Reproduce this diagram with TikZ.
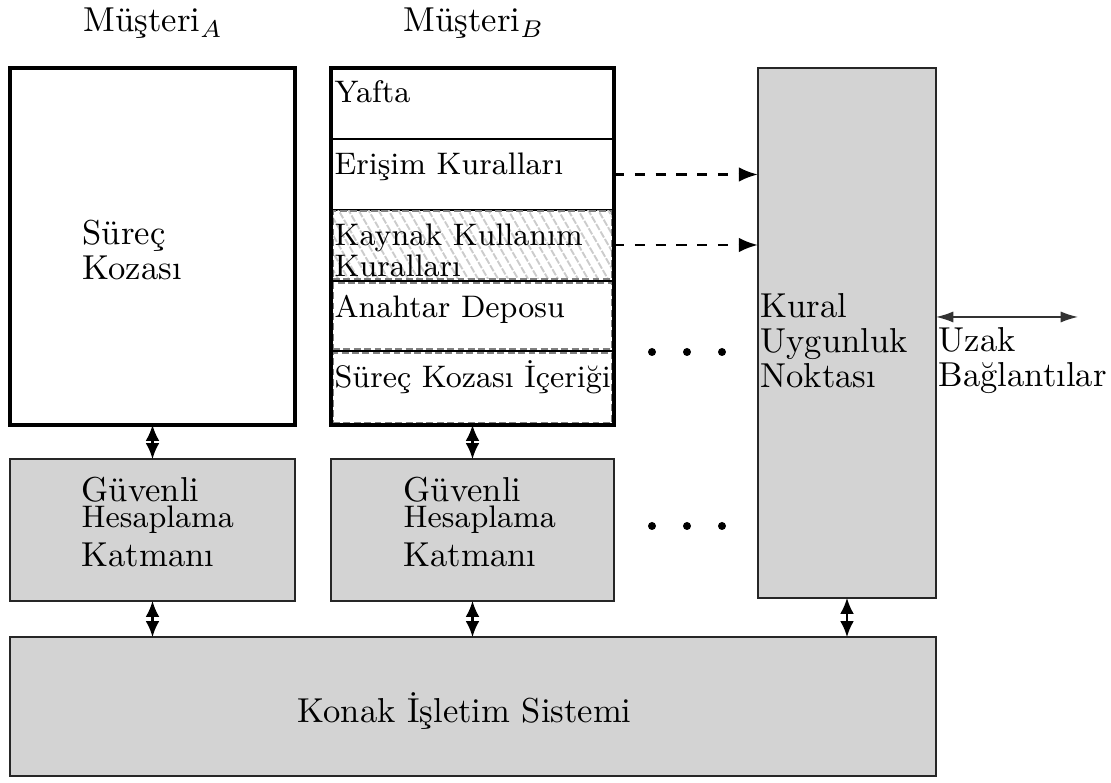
\documentclass[tikz,border=0pt]{standalone}
\usetikzlibrary{arrows.meta,patterns.meta}
\definecolor{boxgray}{RGB}{211,211,211}
\newcommand{\pxu}{0.28902pt}
\tikzset{
  box/.style={draw, inner sep=0pt, outer sep=0pt, anchor=north west},
  sz/.style 2 args={minimum width=#1*\pxu, minimum height=#2*\pxu},
  client/.style={box, line width=0.9pt},
  rowbox/.style={box, line width=0.4pt},
  dbox/.style={box, draw=black!50, dash pattern=on 2pt off 1pt, line width=0.6pt},
  hatch/.style={pattern={Lines[angle=-60,distance=2.5pt,line width=0.55pt]}, pattern color=black!20},
  graybox/.style={box, fill=boxgray, draw=black!85, line width=0.5pt},
  txt/.style={inner sep=0pt, anchor=base west, align=left, font=\fontsize{10}{10.2}\selectfont},
  stxt/.style={txt, font=\fontsize{9}{9.2}\selectfont},
  dbl/.style={{Latex[length=4.6pt,width=4pt]}-{Latex[length=4.6pt,width=4pt]}, line width=0.6pt},
  dasharrow/.style={-{Latex[length=5.5pt,width=4.2pt]}, dashed, line width=0.8pt},
  thinarrow/.style={{Latex[length=5pt,width=3.2pt]}-{Latex[length=5pt,width=3.2pt]}, line width=0.4pt, draw=black!80},
  dot/.style={fill=black}
}
\begin{document}
\begin{tikzpicture}[x=0.28902pt, y=-0.28902pt]
\useasboundingbox (0,0) rectangle (1111,783);

% top labels
\node[txt] (mA) at (83,32) {Müşteri$_A$};
\node[txt] (mB) at (403,32) {Müşteri$_B$};

% client A
\node[client, sz={285}{357}] (clientA) at (10,68) {};
\node[txt] (surec) at (82,280) {Süreç\\Kozası};

% client B rows
\node[rowbox, sz={283}{71}] (yafta) at (331,68) {};
\node[rowbox, sz={283}{71}] (erisim) at (331,139) {};
\node[dbox, hatch, sz={279}{68}] (kaynak) at (333,211) {};
\node[dbox, sz={279}{66}] (anahtar) at (333,283) {};
\node[dbox, sz={279}{70}] (icerik) at (333,353) {};
\draw[line width=0.4pt] (anahtar.north west -| yafta.west) ++(0,-2) coordinate (s1) -- (s1 -| yafta.east);
\draw[line width=0.4pt] (icerik.north west -| yafta.west) ++(0,-2) coordinate (s2) -- (s2 -| yafta.east);
\node[client, sz={283}{357}] (clientB) at (331,68) {};

\node[stxt] (tyafta) at (334,103) {Yafta};
\node[stxt] (terisim) at (334,175) {Erişim Kuralları};
\node[stxt] (tkaynak) at (334,277) {Kaynak Kullanım\\Kuralları};
\node[stxt] (tanahtar) at (334,318) {Anahtar Deposu};
\node[stxt] (ticerik) at (334,388) {Süreç Kozası İçeriği};

% Kural box
\node[graybox, sz={178}{530}] (kural) at (758,68) {};
\node[txt] (tkural) at (760,388) {Kural\\Uygunluk\\Noktası};

% Güvenli boxes
\node[graybox, sz={285}{142}] (guvA) at (10,459) {};
\node[graybox, sz={283}{142}] (guvB) at (331,459) {};
\node[txt] (tguvA) at (81,567) {Güvenli\\[-2.7pt]{\fontsize{9}{9.2}\selectfont Hesaplama}\\[1.1pt]Katmanı};
\node[txt] (tguvB) at (403,567) {Güvenli\\[-2.7pt]{\fontsize{9}{9.2}\selectfont Hesaplama}\\[1.1pt]Katmanı};

% Konak
\node[graybox, sz={926}{139}] (konak) at (10,637) {};
\node[txt] (tkonak) at (297,723) {Konak İşletim Sistemi};

% remote connections
\coordinate (uzakend) at (1078,317);
\draw[thinarrow] (kural.east |- uzakend) -- (uzakend);
\node[txt] (tuzak) at (938,387) {Uzak\\Bağlantılar};

% dashed arrows
\draw[dasharrow] (erisim.east) -- (erisim.east -| kural.west);
\draw[dasharrow] (kaynak.east -| clientB.east) -- (kaynak.east -| kural.west);

% vertical double arrows
\draw[dbl] (clientA.south) -- (guvA.north);
\draw[dbl] (clientB.south) -- (guvB.north);
\draw[dbl] (guvA.south) -- (guvA.south |- konak.north);
\draw[dbl] (guvB.south) -- (guvB.south |- konak.north);
\draw[dbl] (kural.south) -- (kural.south |- konak.north);

% dots
\foreach \xx in {652,687,722}{
  \fill[dot] (\xx,352) circle (4);
  \fill[dot] (\xx,526) circle (4);
}
\end{tikzpicture}
\end{document}
